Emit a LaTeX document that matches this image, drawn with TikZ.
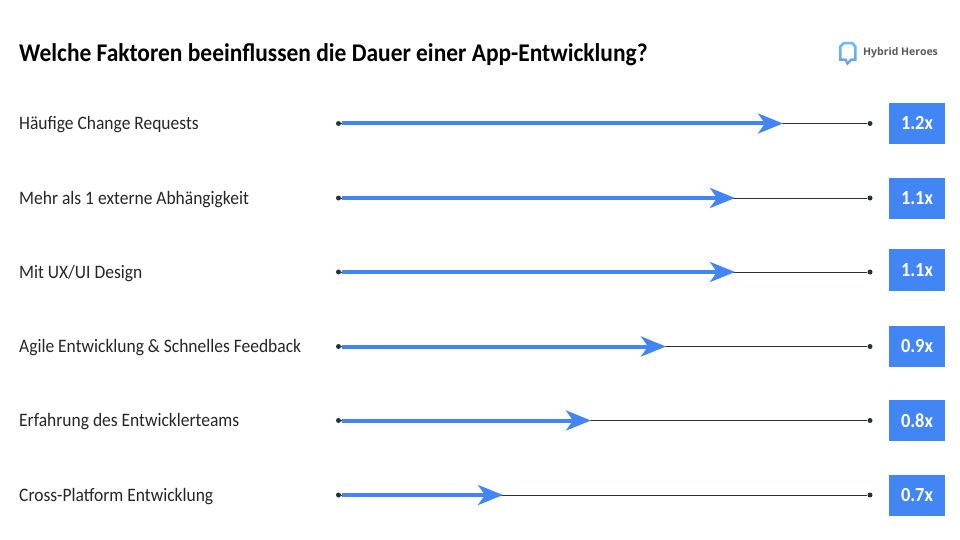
\documentclass[tikz,border=0pt]{standalone}
\usepackage{fontspec}
\setmainfont[FakeStretch=0.92]{Carlito}
\newfontfamily\logofont{Open Sans}
\usepackage{xcolor}
\usetikzlibrary{arrows.meta}
\definecolor{heroblue}{HTML}{4285F4}
\definecolor{linedark}{HTML}{263238}
\tikzset{
	rowlabel/.style={anchor=west,inner sep=0pt,font=\fontsize{19}{19}\selectfont,text=black!85},
	factorbox/.style={fill=heroblue,minimum width=56pt,minimum height=41.5pt,inner sep=0pt,text=white,font=\fontsize{20}{20}\selectfont\bfseries},
	enddot/.style={circle,fill=linedark,minimum size=5pt,inner sep=0pt},
	thinline/.style={draw=linedark,line width=1pt},
	bluearrow/.style={draw=heroblue,line width=4pt,-{Stealth[length=25pt,width=20pt,inset=7pt]}},
}
\begin{document}
\begin{tikzpicture}[x=1pt,y=-1pt]
		\useasboundingbox (0,0) rectangle (960,540);
		%title
		\node[anchor=west,inner sep=0pt,font=\fontsize{25.5}{26}\selectfont\bfseries] (title) at (19,54.5) {Welche Faktoren beeinflussen die Dauer einer App-Entwicklung?};
		
		%logo
		\shade[top color=cyan!55!blue!60,bottom color=heroblue!80,even odd rule] (839,46) -- (843,42) -- (853,42) -- (856.5,46) -- (856.5,61) -- (851.5,61) -- (847,65.5) -- (845,61) -- (839,61) -- cycle
			(841.5,47) -- (844,44.5) -- (852,44.5) -- (854,47) -- (854,58.5) -- (850.5,58.5) -- (847.5,61.5) -- (846.5,58.5) -- (841.5,58.5) -- cycle;
		\node[anchor=west,inner sep=0pt,font=\logofont\fontsize{10.5}{11}\selectfont\bfseries,text=black!65] (logo) at (863,52.5) {Hybrid Heroes};
		
		%rows
		\foreach \i/\y/\boxy/\tip/\val/\name in {
			1/123.5/123.5/783/1.2x/Häufige Change Requests,
			2/198/198.5/735/1.1x/Mehr als 1 externe Abhängigkeit,
			3/272/270/735/1.1x/Mit UX\slash UI Design,
			4/346.5/346.5/666/0.9x/Agile Entwicklung \& Schnelles Feedback,
			5/420.5/420.5/591/0.8x/Erfahrung des Entwicklerteams,
			6/495/495.5/503/0.7x/Cross-Platform Entwicklung}{
			\node[rowlabel] (label\i) at (19,\y+1.5) {\name};
			\node[enddot] (start\i) at (338.5,\y) {};
			\node[enddot] (end\i) at (870,\y) {};
			\coordinate (base\i) at (342,\y);
			\coordinate (tip\i) at (\tip,\y);
			\draw[thinline] (start\i) -- (end\i);
			\draw[bluearrow] (base\i) -- (tip\i);
			\node[factorbox] (factor\i) at (917,\boxy) {\val};
		}
		
		\end{tikzpicture}
\end{document}
